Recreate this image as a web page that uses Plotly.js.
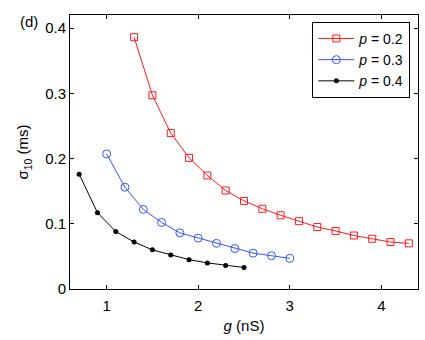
<!DOCTYPE html>
<html>
<head>
<meta charset="utf-8">
<script src="https://cdn.plot.ly/plotly-3.0.1.min.js"></script>
<style>
  html, body { margin: 0; padding: 0; background: #fff; }
  #chart { width: 425px; height: 340px; }
</style>
</head>
<body>
<div id="chart"></div>
<script>
// g (nS) and sigma_10 (ms)
const g_p02 = [1.3, 1.5, 1.7, 1.9, 2.1, 2.3, 2.5, 2.7, 2.9, 3.1, 3.3, 3.5, 3.7, 3.9, 4.1, 4.3];
const s_p02 = [0.386, 0.297, 0.239, 0.201, 0.174, 0.151, 0.135, 0.123, 0.113, 0.104, 0.095, 0.089, 0.082, 0.077, 0.072, 0.070];

const g_p03 = [1.0, 1.2, 1.4, 1.6, 1.8, 2.0, 2.2, 2.4, 2.6, 2.8, 3.0];
const s_p03 = [0.207, 0.156, 0.122, 0.102, 0.086, 0.078, 0.070, 0.062, 0.055, 0.051, 0.047];

const g_p04 = [0.7, 0.9, 1.1, 1.3, 1.5, 1.7, 1.9, 2.1, 2.3, 2.5];
const s_p04 = [0.176, 0.117, 0.088, 0.072, 0.060, 0.052, 0.045, 0.040, 0.036, 0.033];

const xTicks = [1, 2, 3, 4];
const yTicks = [0, 0.1, 0.2, 0.3, 0.4];
const yTickText = ['0', '0.1', '0.2', '0.3', '0.4'];

const traces = [
  {
    x: g_p02, y: s_p02, type: 'scatter', mode: 'lines+markers',
    name: '<i>p</i> = 0.2',
    line: { color: '#ff1a1a', width: 1 },
    marker: { symbol: 'square-open', size: 7, color: '#ff1a1a', line: { width: 1 } }
  },
  {
    x: g_p03, y: s_p03, type: 'scatter', mode: 'lines+markers',
    name: '<i>p</i> = 0.3',
    line: { color: '#3355ff', width: 1 },
    marker: { symbol: 'circle-open', size: 8, color: '#3355ff', line: { width: 1 } }
  },
  {
    x: g_p04, y: s_p04, type: 'scatter', mode: 'lines+markers',
    name: '<i>p</i> = 0.4',
    line: { color: '#000000', width: 1 },
    marker: { symbol: 'circle', size: 5, color: '#000000' }
  }
];

const axisCommon = {
  showgrid: false,
  zeroline: false,
  showline: true,
  linecolor: '#000',
  linewidth: 1,
  mirror: 'ticks',
  ticks: 'inside',
  ticklen: 4,
  tickcolor: '#000',
  tickfont: { size: 15, color: '#000' }
};

const layout = {
  width: 425,
  height: 340,
  margin: { l: 70, r: 7, t: 15, b: 51 },
  paper_bgcolor: '#fff',
  plot_bgcolor: '#fff',
  font: { family: 'Liberation Sans, Arial, sans-serif', color: '#000' },
  xaxis: Object.assign({}, axisCommon, {
    range: [0.6, 4.4],
    tickvals: xTicks,
    ticklabelstandoff: 3,
    title: { text: '<i>g</i> (nS)', font: { size: 15 }, standoff: 7 }
  }),
  yaxis: Object.assign({}, axisCommon, {
    range: [0, 0.42],
    tickvals: yTicks,
    ticktext: yTickText,
    title: { text: 'σ<sub>10</sub> (ms)', font: { size: 15 }, standoff: 12 }
  }),
  legend: {
    x: 0.978, y: 0.975, xanchor: 'right', yanchor: 'top',
    bordercolor: '#000', borderwidth: 1, bgcolor: '#fff',
    font: { size: 14 },
    itemwidth: 36,
    tracegroupgap: 0
  },
  annotations: [
    { text: '(d)', xref: 'paper', yref: 'paper', x: -0.15, y: 0.975,
      xanchor: 'left', yanchor: 'middle', showarrow: false, font: { size: 15 } }
  ],
  showlegend: true
};

Plotly.newPlot('chart', traces, layout, { displayModeBar: false, staticPlot: true });
</script>
</body>
</html>
